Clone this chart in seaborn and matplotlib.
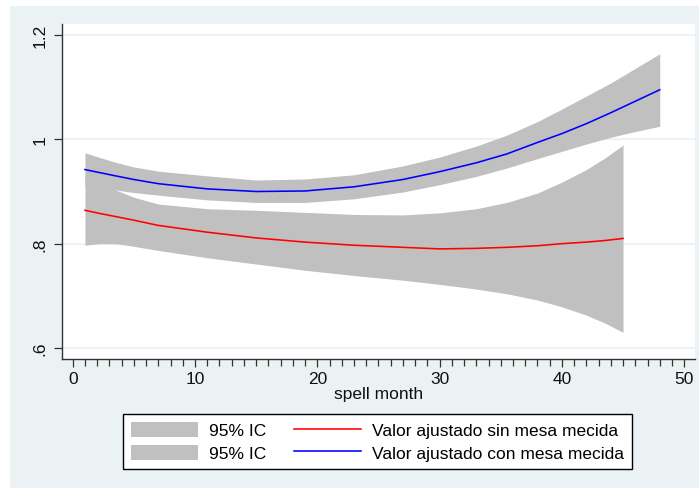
import matplotlib
matplotlib.use("Agg")
import matplotlib.pyplot as plt
import seaborn as sns
import pandas as pd
from matplotlib.patches import Rectangle, Patch
from matplotlib.lines import Line2D
from matplotlib.ticker import MultipleLocator

# ---- data ----
red_x = [1, 2.2, 3.5, 5, 7, 11, 15, 19, 23, 27, 30, 33, 35.5, 38, 40, 42, 43.5, 45]
red_fit = [0.864, 0.858, 0.852, 0.845, 0.835, 0.822, 0.811, 0.803, 0.797, 0.793, 0.790, 0.791, 0.793, 0.796, 0.800, 0.803, 0.806, 0.810]
red_hi = [0.931, 0.916, 0.903, 0.889, 0.876, 0.867, 0.864, 0.860, 0.856, 0.855, 0.859, 0.867, 0.879, 0.897, 0.918, 0.942, 0.964, 0.989]
red_lo = [0.797, 0.800, 0.800, 0.795, 0.787, 0.773, 0.761, 0.749, 0.739, 0.730, 0.722, 0.713, 0.704, 0.692, 0.679, 0.663, 0.648, 0.630]

blue_x = [1, 3.5, 5, 7, 11, 15, 19, 23, 27, 30, 33, 35.5, 38, 40, 42, 44, 46, 48]
blue_fit = [0.942, 0.930, 0.923, 0.915, 0.905, 0.900, 0.901, 0.909, 0.923, 0.938, 0.955, 0.972, 0.994, 1.011, 1.030, 1.051, 1.073, 1.095]
blue_hi = [0.974, 0.956, 0.947, 0.939, 0.930, 0.922, 0.924, 0.932, 0.949, 0.966, 0.987, 1.008, 1.034, 1.058, 1.083, 1.108, 1.136, 1.164]
blue_lo = [0.910, 0.903, 0.898, 0.893, 0.884, 0.879, 0.879, 0.886, 0.899, 0.913, 0.929, 0.945, 0.963, 0.977, 0.991, 1.004, 1.015, 1.025]

y_ticks = [0.6, 0.8, 1.0, 1.2]
y_ticklabels = [".6", ".8", "1", "1.2"]
x_ticks = [0, 10, 20, 30, 40, 50]
x_label = "spell month"
ci_label = "95% IC"
red_label = "Valor ajustado sin mesa mecida"
blue_label = "Valor ajustado con mesa mecida"

# ---- style ----
BG = "#EAF2F3"
GRAY = "#C0C0C0"
FONT = ["Liberation Sans", "DejaVu Sans"]
plt.rcParams["font.family"] = FONT
FS = 12.5

W, H = 699, 489
fig = plt.figure(figsize=(W / 100, H / 100), dpi=100)
fig.patch.set_facecolor("white")
fig.patches.append(Rectangle((10 / W, 0), 1 - 10 / W, 1 - 7 / H,
                             transform=fig.transFigure, facecolor=BG,
                             edgecolor="none", zorder=-10))

ax = fig.add_axes([62 / W, 1 - 360 / H, (695 - 62) / W, (360 - 25) / H])
ax.set_facecolor("white")

df_red = pd.DataFrame({"x": red_x, "y": red_fit})
df_blue = pd.DataFrame({"x": blue_x, "y": blue_fit})

for y in y_ticks:
    ax.axhline(y, color=BG, lw=1.3, zorder=0)

ax.fill_between(red_x, red_lo, red_hi, color=GRAY, lw=0, zorder=1)
ax.fill_between(blue_x, blue_lo, blue_hi, color=GRAY, lw=0, zorder=1)
sns.lineplot(data=df_red, x="x", y="y", ax=ax, color="#FF0000", lw=1.15, zorder=3)
sns.lineplot(data=df_blue, x="x", y="y", ax=ax, color="#0000FF", lw=1.15, zorder=3)

ax.set_xlim((62 - 72.7) / 12.23, (695 - 72.7) / 12.23)
ax.set_ylim(0.6 - 11 / 522.5, 1.2 + 11 / 522.5)

ax.set_xticks(x_ticks)
ax.xaxis.set_minor_locator(MultipleLocator(1))
ax.set_yticks(y_ticks)
ax.set_yticklabels(y_ticklabels, rotation=90, va="center")

for s in ["top", "right"]:
    ax.spines[s].set_visible(False)
for s in ["left", "bottom"]:
    ax.spines[s].set_color("#333333")
    ax.spines[s].set_linewidth(1.0)

ax.tick_params(axis="both", which="major", length=5.5, width=0.9, color="#333333",
               labelsize=FS, labelcolor="#111111", pad=3)
ax.tick_params(axis="x", which="minor", length=5, width=0.9, color="#333333")
ax.tick_params(axis="y", pad=5)
ax.set_xlabel(x_label, fontsize=FS, labelpad=0, color="#111111")
ax.set_ylabel("")

handles = [Patch(facecolor=GRAY, edgecolor="none"),
           Patch(facecolor=GRAY, edgecolor="none"),
           Line2D([], [], color="#FF0000", lw=1.15),
           Line2D([], [], color="#0000FF", lw=1.15)]
labels = [ci_label, ci_label, red_label, blue_label]
leg = fig.legend(handles, labels, ncol=2, loc="center",
                 bbox_to_anchor=(377.5 / W, 1 - 442.5 / H),
                 fontsize=FS, frameon=True, fancybox=False, framealpha=1,
                 edgecolor="black", facecolor="white",
                 handlelength=3.85, handleheight=1.0, handletextpad=0.65,
                 columnspacing=1.6, labelspacing=0.35, borderpad=0.45)
leg.get_frame().set_linewidth(1.0)

fig.savefig("out.png", dpi=100, facecolor=fig.get_facecolor())
